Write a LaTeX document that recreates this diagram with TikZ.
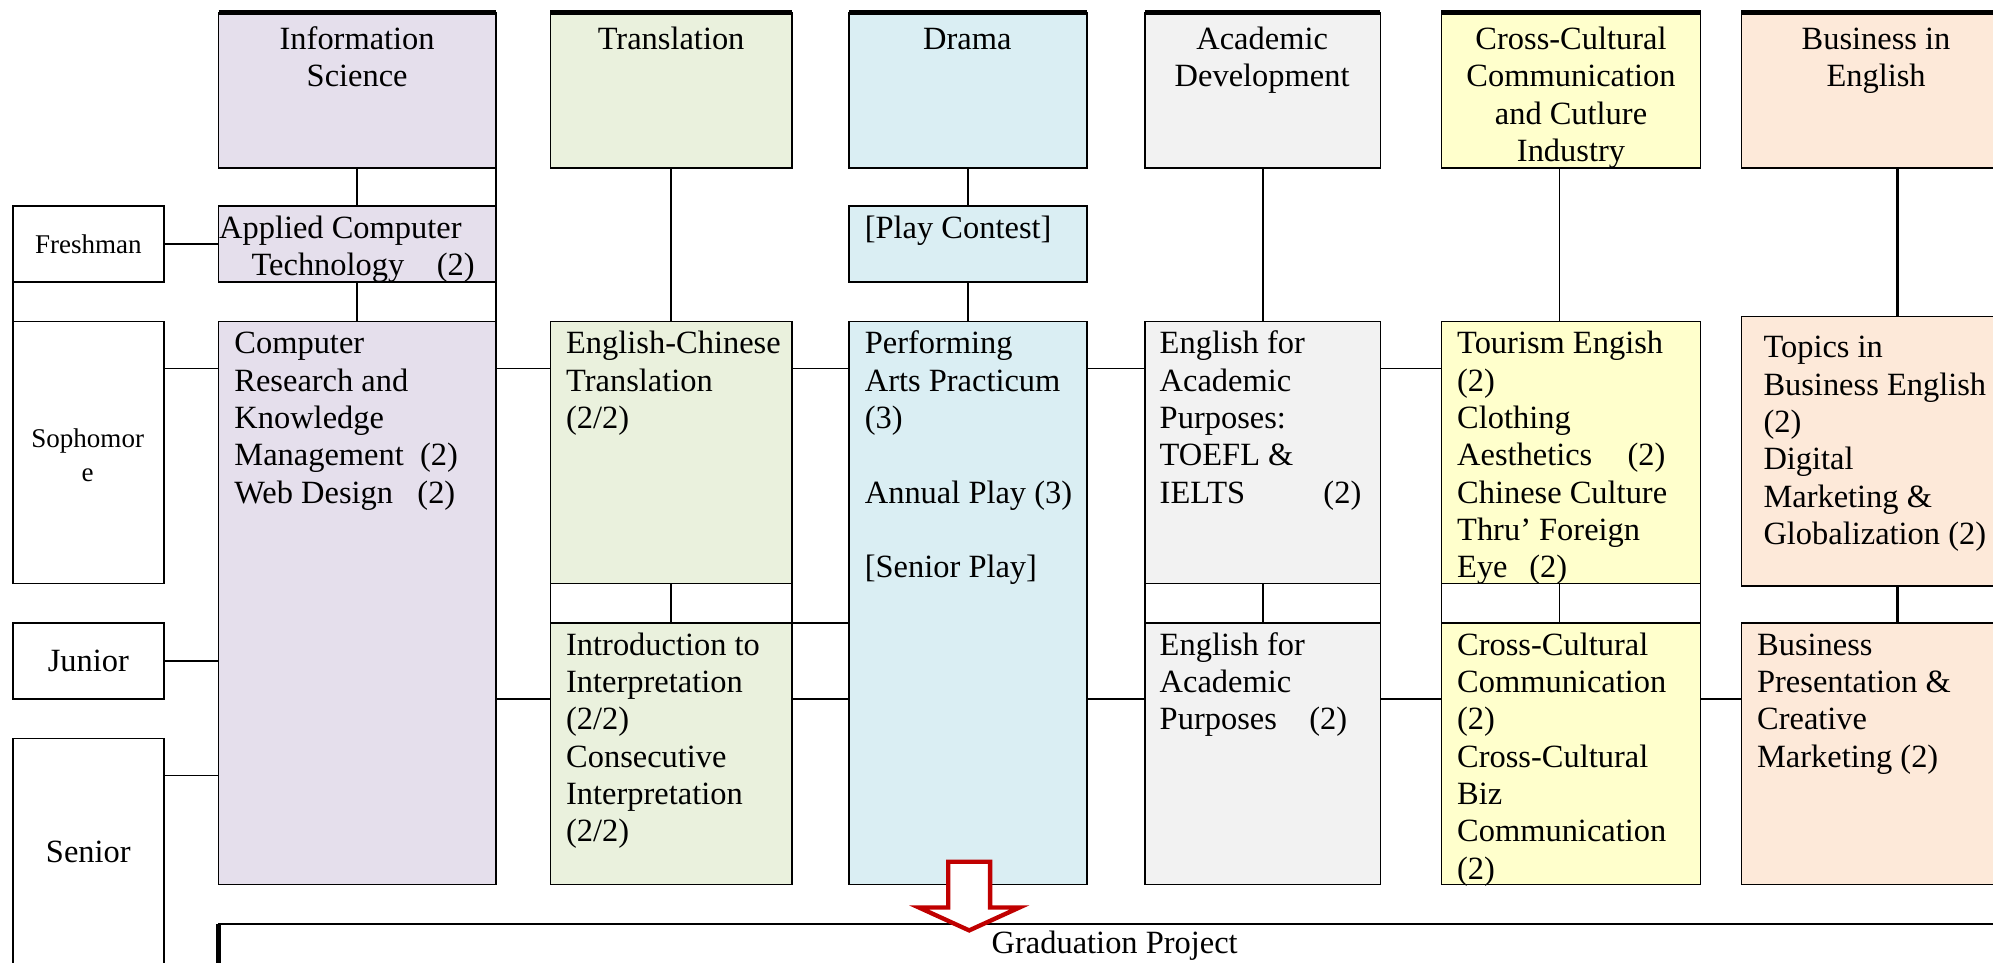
\documentclass[tikz,border=0pt]{standalone}
\usepackage{fontspec}
\setmainfont{Liberation Serif}
\usepackage{xcolor}
\usepackage{tikz}
\definecolor{infofill}{HTML}{E5DFEC}
\definecolor{transfill}{HTML}{EAF1DD}
\definecolor{dramafill}{HTML}{DAEEF3}
\definecolor{acadfill}{HTML}{F2F2F2}
\definecolor{cultfill}{HTML}{FFFFCC}
\definecolor{bizfill}{HTML}{FDE9D9}
\definecolor{arrowred}{HTML}{C00000}
\newcommand{\unitpx}{0.47pt}

\begin{document}
\begin{tikzpicture}[x=0.47pt,y=-0.47pt,
    box/.style={draw,line width=0.6pt,anchor=north west,inner sep=0pt,outer sep=0pt},
    course/.style={anchor=north west,align=left,inner sep=0pt,font=\fontsize{12}{13.8}\selectfont},
    field/.style={anchor=north,align=center,inner sep=0pt,font=\fontsize{12}{13.8}\selectfont},
    year/.style={align=center,inner sep=0pt,font=\fontsize{12}{13.8}\selectfont},
    link/.style={line width=0.6pt}]
    \useasboundingbox (0,0) rectangle (1568,757);
    \clip (0,0) rectangle (1568,757);
    %
    % fields
    \node[box,fill=infofill,minimum width=218*\unitpx,minimum height=122*\unitpx] (info) at (172,10) {};
    \node[box,fill=transfill,minimum width=190*\unitpx,minimum height=122*\unitpx] (trans) at (433,10) {};
    \node[box,fill=dramafill,minimum width=187*\unitpx,minimum height=122*\unitpx] (drama) at (668,10) {};
    \node[box,fill=acadfill,minimum width=185*\unitpx,minimum height=122*\unitpx] (acad) at (901,10) {};
    \node[box,fill=cultfill,minimum width=204*\unitpx,minimum height=122*\unitpx] (cult) at (1134,10) {};
    \node[box,fill=bizfill,minimum width=246*\unitpx,minimum height=122*\unitpx] (biz) at (1370,10) {};
    \draw[line width=2pt] (info.north west) -- (info.north east);
    \draw[line width=2pt] (trans.north west) -- (trans.north east);
    \draw[line width=2pt] (drama.north west) -- (drama.north east);
    \draw[line width=2pt] (acad.north west) -- (acad.north east);
    \draw[line width=2pt] (cult.north west) -- (cult.north east);
    \draw[line width=2pt] (biz.north west) -- (biz.north east);
    \node[field] (info-t) at (281,18) {\strut Information\\Science};
    \node[field] (trans-t) at (528,18) {\strut Translation};
    \node[field] (drama-t) at (761,18) {\strut Drama};
    \node[field] (acad-t) at (993,18) {\strut Academic\\Development};
    \node[field] (cult-t) at (1236,18) {\strut Cross-Cultural\\Communication\\and Cutlure\\Industry};
    \node[field] (biz-t) at (1476,18) {\strut Business in\\English};
    %
    % years
    \node[box,minimum width=119*\unitpx,minimum height=60*\unitpx] (fresh) at (10,162) {};
    \node[box,minimum width=119*\unitpx,minimum height=206*\unitpx] (soph) at (10,253) {};
    \node[box,minimum width=119*\unitpx,minimum height=60*\unitpx] (jun) at (10,490) {};
    \node[box,minimum width=119*\unitpx,minimum height=178*\unitpx] (sen) at (10,581) {};
    \node[year,font=\fontsize{10}{12.7}\selectfont] (fresh-t) at (fresh.center) {Freshman};
    \node[year,font=\fontsize{10}{12.7}\selectfont] (soph-t) at (69,358) {Sophomor\\e};
    \node[year] (jun-t) at (jun.center) {Junior};
    \node[year] (sen-t) at (sen.center) {Senior};
    %
    % courses
    \node[box,fill=infofill,minimum width=218*\unitpx,minimum height=60*\unitpx] (act) at (172,162) {};
    \node[box,fill=dramafill,minimum width=187*\unitpx,minimum height=60*\unitpx] (play) at (668,162) {};
    \node[box,fill=infofill,minimum width=218*\unitpx,minimum height=443*\unitpx] (crk) at (172,253) {};
    \node[box,fill=transfill,minimum width=190*\unitpx,minimum height=206*\unitpx] (ect) at (433,253) {};
    \node[box,fill=dramafill,minimum width=187*\unitpx,minimum height=443*\unitpx] (perf) at (668,253) {};
    \node[box,fill=acadfill,minimum width=185*\unitpx,minimum height=206*\unitpx] (eap) at (901,253) {};
    \node[box,fill=cultfill,minimum width=204*\unitpx,minimum height=206*\unitpx] (tour) at (1134,253) {};
    \node[box,fill=bizfill,minimum width=246*\unitpx,minimum height=212*\unitpx] (topic) at (1370,249) {};
    \node[box,fill=transfill,minimum width=190*\unitpx,minimum height=206*\unitpx] (intro) at (433,490) {};
    \node[box,fill=acadfill,minimum width=185*\unitpx,minimum height=206*\unitpx] (eapb) at (901,490) {};
    \node[box,fill=cultfill,minimum width=204*\unitpx,minimum height=206*\unitpx] (ccc) at (1134,490) {};
    \node[box,fill=bizfill,minimum width=246*\unitpx,minimum height=206*\unitpx] (bpres) at (1370,490) {};
    \node[box,minimum width=1450*\unitpx,minimum height=60*\unitpx] (grad) at (172,727) {};
    \draw[line width=2pt] (grad.north west) -- (grad.south west);
    %
    \node[course] (act-t) at (172,166.5) {\strut Applied Computer\\\hspace*{12pt}Technology\hspace{12pt}(2)};
    \node[course] (play-t) at (680,166.5) {\strut{[}Play Contest{]}};
    \node[course] (crk-t) at (184,257.5) {\strut Computer\\Research and\\Knowledge\\Management\ \ (2)\\Web Design\ \ \ (2)};
    \node[course] (ect-t) at (445,257.5) {\strut English-Chinese\\Translation\\(2/2)};
    \node[course] (perf-t) at (680,257.5) {\strut Performing\\Arts Practicum\\(3)\\\strut\\Annual Play (3)\\\strut\\{[}Senior Play{]}};
    \node[course] (eap-t) at (912,257.5) {\strut English for\\Academic\\Purposes:\\TOEFL \&\\IELTS\hspace{29pt}(2)};
    \node[course] (tour-t) at (1146,257.5) {\strut Tourism Engish\\(2)\\Clothing\\Aesthetics\hspace{13pt}(2)\\Chinese Culture\\Thru’ Foreign\\Eye\hspace{8pt}(2)};
    \node[course] (topic-t) at (1387,260.5) {\strut Topics in\\Business English\\(2)\\Digital\\Marketing \&\\Globalization (2)};
    \node[course] (intro-t) at (445,494.5) {\strut Introduction to\\Interpretation\\(2/2)\\Consecutive\\Interpretation\\(2/2)};
    \node[course] (eapb-t) at (912,494.5) {\strut English for\\Academic\\Purposes\hspace{12pt}(2)};
    \node[course] (ccc-t) at (1146,494.5) {\strut Cross-Cultural\\Communication\\(2)\\Cross-Cultural\\Biz\\Communication\\(2)};
    \node[course] (bpres-t) at (1382,494.5) {\strut Business\\Presentation \&\\Creative\\Marketing (2)};
    \node[year] (grad-t) at (877,744) {Graduation Project};
    %
    % links
    \coordinate (row1) at (0,290);
    \coordinate (row2) at (0,550);
    \coordinate (row3) at (0,610);
    \coordinate (cultaxis) at (1227,0);
    \draw[link] (info.south) -- (act.north);
    \draw[link] (act.south) -- (crk.north);
    \draw[link] (info.south east) -- (crk.north east);
    \draw[link] (fresh.east) -- (act.west |- fresh.east);
    \draw[link] (fresh.south west) -- (soph.north west);
    \draw[link] (soph.east |- row1) -- (crk.west |- row1);
    \draw[link] (jun.east) -- (crk.west |- jun.east);
    \draw[link] (sen.east |- row3) -- (crk.west |- row3);
    \draw[link] (trans.south) -- (ect.north);
    \draw[link] (drama.south) -- (play.north);
    \draw[link] (play.south) -- (perf.north);
    \draw[link] (acad.south) -- (eap.north);
    \draw[link] (cult.south -| cultaxis) -- (tour.north -| cultaxis);
    \draw[link,line width=1pt] (biz.south) -- (topic.north);
    \draw[link] (crk.east |- row1) -- (ect.west |- row1);
    \draw[link] (ect.east |- row1) -- (perf.west |- row1);
    \draw[link] (perf.east |- row1) -- (eap.west |- row1);
    \draw[link] (eap.east |- row1) -- (tour.west |- row1);
    \draw[link] (crk.east |- row2) -- (intro.west |- row2);
    \draw[link] (intro.east |- row2) -- (perf.west |- row2);
    \draw[link] (perf.east |- row2) -- (eapb.west |- row2);
    \draw[link] (eapb.east |- row2) -- (ccc.west |- row2);
    \draw[link] (ccc.east |- row2) -- (bpres.west |- row2);
    \draw[link] (intro.north east) -- (perf.west |- intro.north east);
    \draw[link] (ect.south) -- (intro.north);
    \draw[link] (ect.south west) -- (intro.north west);
    \draw[link] (ect.south east) -- (intro.north east);
    \draw[link] (eap.south) -- (eapb.north);
    \draw[link] (eap.south west) -- (eapb.north west);
    \draw[link] (eap.south east) -- (eapb.north east);
    \draw[link] (tour.south -| cultaxis) -- (ccc.north -| cultaxis);
    \draw[link] (tour.south west) -- (ccc.north west);
    \draw[link] (tour.south east) -- (ccc.north east);
    \draw[link,line width=1pt] (topic.south) -- (bpres.north);
    %
    % arrow to the project
    \draw[arrowred,line width=1.6pt,fill=white] (746,678) -- (779,678) -- (779,714) -- (802,714)
      -- (762.5,732) -- (723,714) -- (746,714) -- cycle;
\end{tikzpicture}
\end{document}
